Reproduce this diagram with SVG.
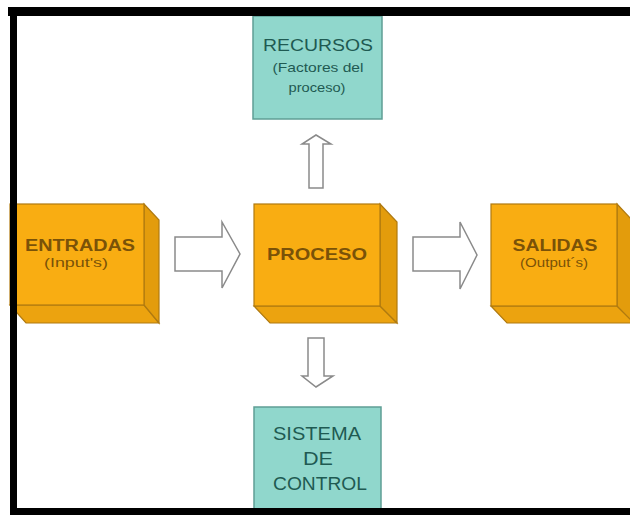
<svg xmlns="http://www.w3.org/2000/svg" width="630" height="515" viewBox="0 0 630 515">
<style>
.front{fill:#f9ad12;stroke:#b07a10;stroke-width:1.2}
.side{fill:#e39c0c;stroke:#b07a10;stroke-width:1.2}
.bottom{fill:#eca30f;stroke:#b07a10;stroke-width:1.2}
.teal{fill:#90d7cc;stroke:#5f9e95;stroke-width:1.5}
.arrow{fill:#ffffff;stroke:#8a8a8a;stroke-width:1.5;stroke-linejoin:miter}
.tb{font-family:"Liberation Sans",Arial,sans-serif;fill:#7a5208;text-anchor:middle}
.tt{font-family:"Liberation Sans",Arial,sans-serif;fill:#1f5a52;text-anchor:middle}
.frame{fill:#000000}
</style>
<rect width="630" height="515" fill="#ffffff"/>
<g id="connectors">
<polygon class="arrow" points="175,237 222,237 222,222 240,254 222,288 222,271 175,271"/>
<polygon class="arrow" points="413,237 460,237 460,222 477,255 460,289 460,271 413,271"/>
<polygon class="arrow" points="309,188 309,144 302,144 316,135 331,144 323,144 323,188"/>
<polygon class="arrow" points="308,338 308,376 302,376 316,387 333,376 324,376 324,338"/>
</g>
<g id="recursos">
<rect class="teal" x="253" y="16" width="129" height="103"/>
<text class="tt" x="318" y="51" font-size="16" textLength="110" lengthAdjust="spacingAndGlyphs">RECURSOS</text>
<text class="tt" x="318" y="72" font-size="13" textLength="91" lengthAdjust="spacingAndGlyphs">(Factores del</text>
<text class="tt" x="317" y="92" font-size="13" textLength="57" lengthAdjust="spacingAndGlyphs">proceso)</text>
</g>
<g id="entradas">
<polygon class="bottom" points="10,305 144,305 159,323 26,323"/>
<polygon class="side" points="144,204 159,220 159,323 144,305"/>
<rect class="front" x="10" y="204" width="134" height="101"/>
<text class="tb" x="80" y="251" font-size="16" font-weight="bold" textLength="110" lengthAdjust="spacingAndGlyphs">ENTRADAS</text>
<text class="tb" x="76" y="267" font-size="13" textLength="64" lengthAdjust="spacingAndGlyphs">(Input's)</text>
</g>
<g id="proceso">
<polygon class="bottom" points="254,306 380,306 397,323 270,323"/>
<polygon class="side" points="380,204 397,222 397,323 380,306"/>
<rect class="front" x="254" y="204" width="126" height="102"/>
<text class="tb" x="317" y="260" font-size="17" font-weight="bold" textLength="100" lengthAdjust="spacingAndGlyphs">PROCESO</text>
</g>
<g id="salidas">
<polygon class="bottom" points="491,306 617,306 634,323 507,323"/>
<polygon class="side" points="617,204 634,222 634,323 617,306"/>
<rect class="front" x="491" y="204" width="126" height="102"/>
<text class="tb" x="555" y="251" font-size="16" font-weight="bold" textLength="85" lengthAdjust="spacingAndGlyphs">SALIDAS</text>
<text class="tb" x="554" y="267" font-size="13" textLength="68" lengthAdjust="spacingAndGlyphs">(Output´s)</text>
</g>
<g id="sistema">
<rect class="teal" x="254" y="407" width="127" height="104"/>
<text class="tt" x="317" y="440" font-size="18" textLength="88" lengthAdjust="spacingAndGlyphs">SISTEMA</text>
<text class="tt" x="318" y="465" font-size="18" textLength="30" lengthAdjust="spacingAndGlyphs">DE</text>
<text class="tt" x="320" y="490" font-size="18" textLength="94" lengthAdjust="spacingAndGlyphs">CONTROL</text>
</g>
<g id="frame">
<rect class="frame" x="8" y="7" width="622" height="9"/>
<rect class="frame" x="10" y="7" width="7" height="508"/>
<rect class="frame" x="10" y="508" width="620" height="7"/>
</g>
</svg>
